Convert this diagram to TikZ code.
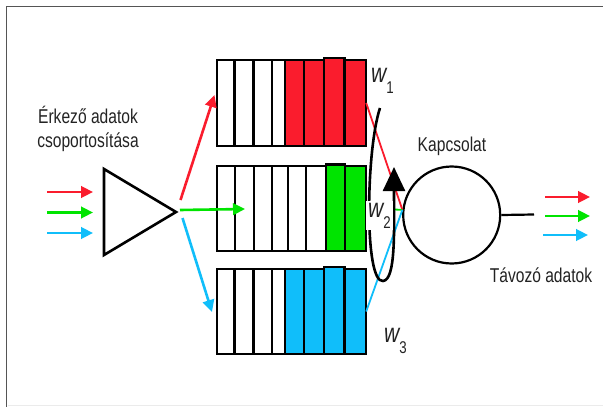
\documentclass[tikz,border=0pt]{standalone}
\usepackage{fontspec}
\newfontfamily\cond[FakeStretch=0.78]{Liberation Sans}
\usetikzlibrary{arrows.meta}
\definecolor{qred}{RGB}{250,28,45}
\definecolor{qgreen}{RGB}{0,228,0}
\definecolor{qblue}{RGB}{16,190,250}
\definecolor{framegray}{RGB}{85,85,85}
\definecolor{txt}{RGB}{35,35,35}
\begin{document}
\begin{tikzpicture}[x=1pt,y=-1pt,
  cell/.style={draw=black,line width=2.6pt},
  flow/.style={line width=2.6pt,-{Triangle[length=12pt,width=11.5pt]}},
  link/.style={line width=1.8pt},
  lbl/.style={font=\cond\fontsize{20}{24}\selectfont, text=txt, inner sep=0pt, align=center},
  wlbl/.style={font=\cond\itshape\fontsize{27}{27}\selectfont, text=txt, inner sep=0pt},
  qbox/.style={minimum width=149pt, minimum height=86pt, inner sep=0pt, draw=none}
]
\useasboundingbox (0,0) rectangle (603,407);
\fill[white] (0,0) rectangle (603,407);
\draw[framegray, line width=1.4pt] (6.7,407) -- (6.7,6.7) -- (603,6.7);
\draw[black!8, line width=0.8pt] (8,405.5) -- (603,405.5);

% queues
\node[qbox] (q1) at (291.5,103) {};
\node[qbox] (q2) at (291.5,208.5) {};
\node[qbox] (q3) at (291.5,311.5) {};
\foreach \a/\b/\c/\s in {217/234.5/white/0, 234.5/253.5/white/0, 253.5/272/white/0, 272/285/white/0,
  285/304/qred/0, 304/324/qred/0, 324/344.5/qred/2, 344.5/366/qred/0}
  \filldraw[cell, fill=\c] (\a,60-\s) rectangle (\b,146);
\foreach \a/\b/\c/\s in {217/235/white/0, 235/254/white/0, 254/272/white/0, 272/288/white/0,
  288/306/white/0, 306/326/white/0, 326/345/qgreen/1.5, 345/366/qgreen/0}
  \filldraw[cell, fill=\c] (\a,166-\s) rectangle (\b,251);
\foreach \a/\b/\c/\s in {217/234.5/white/0, 234.5/253.5/white/0, 253.5/272/white/0, 272/285/white/0,
  285/304/qblue/0, 304/324/qblue/0, 324/344.5/qblue/2, 344.5/366/qblue/0}
  \filldraw[cell, fill=\c] (\a,269-\s) rectangle (\b,354);

% grouping triangle
\draw[line width=2.6pt, line join=miter] (104,169) -- (176,212) -- (104,255) -- cycle;

% input arrows
\coordinate (ir0) at (47,192);   \coordinate (ir1) at (93,192);
\coordinate (ig0) at (47,212.5); \coordinate (ig1) at (93,212.5);
\coordinate (ib0) at (47,233);   \coordinate (ib1) at (93,233);
\draw[flow, qred] (ir0) -- (ir1);
\draw[flow, qgreen] (ig0) -- (ig1);
\draw[flow, qblue] (ib0) -- (ib1);

% fan-out arrows
\coordinate (fr0) at (180.5,200); \coordinate (fr1) at (214.5,95);
\coordinate (fg0) at (180,210);   \coordinate (fg1) at (245,209);
\coordinate (fb0) at (182.5,218); \coordinate (fb1) at (212,312);
\draw[flow, qred] (fr0) -- (fr1);
\draw[flow, qgreen] (fg0) -- (fg1);
\draw[flow, qblue] (fb0) -- (fb1);

% link
\node[draw, circle, line width=2.2pt, minimum size=97pt, inner sep=0pt] (c) at (451.7,215) {};
\coordinate (cend) at (534,214.5);
\draw[line width=2.2pt] (c.east) -- (cend);

\draw[link, qred] (q1.east) -- (c.174);
\draw[link, qgreen] (q2.east) -- (c.174);
\draw[link, qblue] (q3.east) -- (c.174);

% scheduler loop
\draw[line width=2.6pt, -{Triangle[length=24pt,width=22pt]}]
  (380,108) .. controls (366,150) and (364,283) .. (383,281)
  .. controls (396,280) and (394,230) .. (394,167);

% output arrows
\coordinate (or0) at (545,197);   \coordinate (or1) at (590,197);
\coordinate (og0) at (545,216);   \coordinate (og1) at (590,216);
\coordinate (ob0) at (543,235);   \coordinate (ob1) at (588,235);
\draw[flow, qred] (or0) -- (or1);
\draw[flow, qgreen] (og0) -- (og1);
\draw[flow, qblue] (ob0) -- (ob1);

% labels
\node[lbl, anchor=north] (in) at (88,106) {Érkező adatok\\csoportosítása};
\node[lbl, anchor=base] (kap) at (452,151) {Kapcsolat};
\node[lbl, anchor=base] (out) at (541,282) {Távozó adatok};
\node[wlbl, anchor=base west] (w1) at (371,82) {w\raisebox{-11pt}{\upshape\fontsize{17}{17}\selectfont 1}};
\node[wlbl, anchor=base west, fill=white, inner sep=2pt] (w2) at (366,217) {w\raisebox{-11pt}{\upshape\fontsize{17}{17}\selectfont 2}};
\node[wlbl, anchor=base west] (w3) at (384,342) {w\raisebox{-11pt}{\upshape\fontsize{17}{17}\selectfont 3}};
\end{tikzpicture}
\end{document}
